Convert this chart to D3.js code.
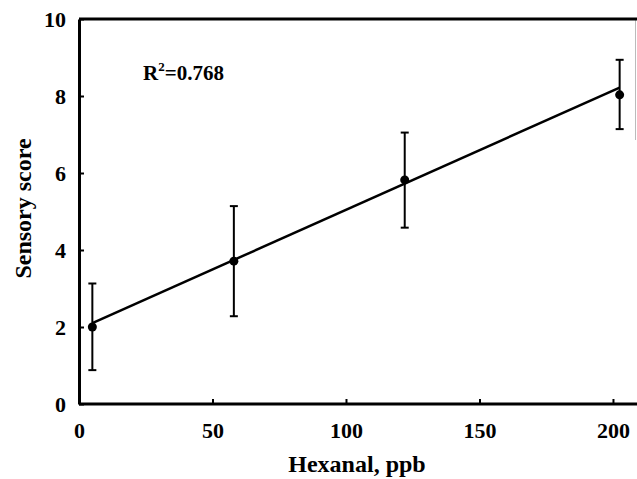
<!DOCTYPE html>
<html>
<head>
<meta charset="utf-8">
<script src="https://cdn.jsdelivr.net/npm/d3@7"></script>
<style>
  body { margin: 0; background: #fff; }
  text { font-family: 'Liberation Serif', 'Times New Roman', serif; font-weight: bold; fill: #000; }
</style>
</head>
<body>
<div id="graph"></div>
<script>
// hexanal (ppb) vs sensory score
var hexanal = [5, 58, 122, 202.5]
var score = [2.0, 3.71, 5.82, 8.03]
var errLo = [0.88, 2.28, 4.58, 7.14]
var errHi = [3.13, 5.14, 7.05, 8.94]
var fitX = [5, 202.5]
var fitY = [2.1, 8.22]
var xTicks = [0, 50, 100, 150, 200]
var yTicks = [0, 2, 4, 6, 8, 10]
var rsq = '0.768'

var width = 637, height = 479
var margin = {left: 79, top: 19, right: 0, bottom: 75}

var svg = d3.select('#graph').append('svg')
  .attr('width', width).attr('height', height)

var x = d3.scaleLinear().domain([0, 209]).range([margin.left, width])
var y = d3.scaleLinear().domain([0, 10]).range([height - margin.bottom, margin.top])

// faint right edge
svg.append('line')
  .attr('x1', 635.5).attr('x2', 635.5).attr('y1', y(10)).attr('y2', 140)
  .attr('stroke', '#bbb').attr('stroke-width', 1)

// top border
svg.append('line')
  .attr('x1', x(0)).attr('x2', width).attr('y1', y(10)).attr('y2', y(10))
  .attr('stroke', '#000').attr('stroke-width', 3)

var xAxis = svg.append('g')
  .attr('transform', 'translate(0,' + y(0) + ')')
  .call(d3.axisBottom(x).tickValues(xTicks).tickSizeInner(-5).tickSizeOuter(0))
var yAxis = svg.append('g')
  .attr('transform', 'translate(' + x(0) + ',0)')
  .call(d3.axisLeft(y).tickValues(yTicks).tickSizeInner(-5).tickSizeOuter(0).tickPadding(13))

;[xAxis, yAxis].forEach(function(g){
  g.select('.domain').attr('stroke-width', 3)
  g.selectAll('.tick line').attr('stroke-width', 2)
  g.selectAll('.tick text').style('font-size', '22px')
    .style('font-family', "'Liberation Serif', serif").style('font-weight', 'bold')
})
xAxis.select('.domain').attr('d', 'M' + x(0) + ',0H' + width)
xAxis.selectAll('.tick text').attr('y', 34).attr('dy', '0')

// regression line
svg.append('line')
  .attr('x1', x(fitX[0])).attr('y1', y(fitY[0]))
  .attr('x2', x(fitX[1])).attr('y2', y(fitY[1]))
  .attr('stroke', '#000').attr('stroke-width', 2.5)

var pts = svg.selectAll('g.pt').data(hexanal).enter().append('g').attr('class', 'pt')
pts.append('line')
  .attr('x1', function(d){ return x(d) }).attr('x2', function(d){ return x(d) })
  .attr('y1', function(d, i){ return y(errLo[i]) }).attr('y2', function(d, i){ return y(errHi[i]) })
  .attr('stroke', '#000').attr('stroke-width', 2)
pts.selectAll('line.cap')
  .data(function(d, i){ return [[d, errLo[i]], [d, errHi[i]]] })
  .enter().append('line').attr('class', 'cap')
  .attr('x1', function(d){ return x(d[0]) - 4 }).attr('x2', function(d){ return x(d[0]) + 4 })
  .attr('y1', function(d){ return y(d[1]) }).attr('y2', function(d){ return y(d[1]) })
  .attr('stroke', '#000').attr('stroke-width', 2)
pts.append('circle')
  .attr('cx', function(d){ return x(d) }).attr('cy', function(d, i){ return y(score[i]) })
  .attr('r', 4.5).attr('fill', '#000')

// R^2 label
var r = svg.append('text').attr('x', 143).attr('y', 80).style('font-size', '21px')
r.append('tspan').text('R')
r.append('tspan').attr('dy', -9).style('font-size', '13px').text('2')
r.append('tspan').attr('dy', 9).text('=' + rsq)

// axis titles
svg.append('text')
  .attr('x', 357).attr('y', 472)
  .attr('text-anchor', 'middle').style('font-size', '24px')
  .text('Hexanal, ppb')
svg.append('text')
  .attr('transform', 'translate(31,' + 208.5 + ') rotate(-90)')
  .attr('text-anchor', 'middle').style('font-size', '24px')
  .text('Sensory score')
</script>
</body>
</html>
